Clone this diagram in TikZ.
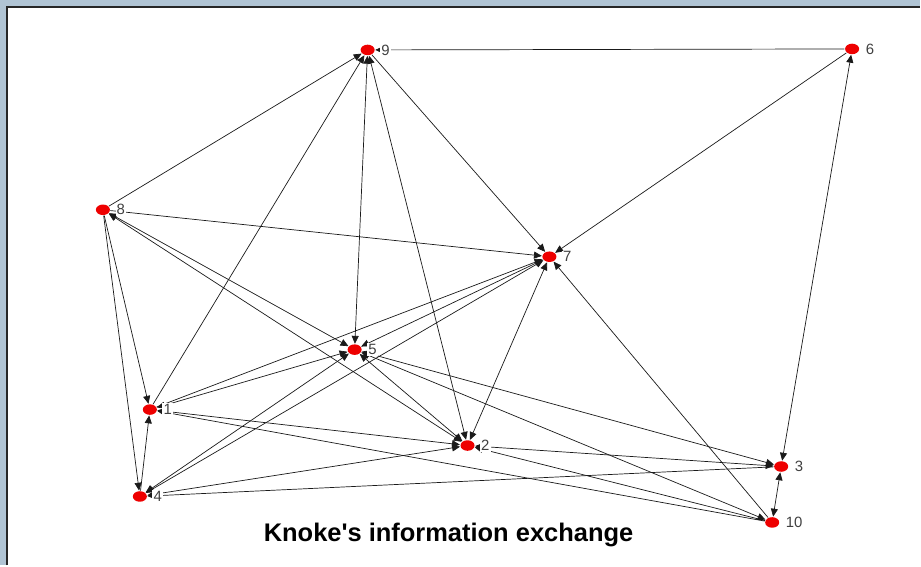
\documentclass[tikz,border=0pt]{standalone}
\usepackage{fontspec}
\setmainfont{Liberation Sans}
\usetikzlibrary{arrows.meta, shapes.geometric, backgrounds}
\definecolor{cframe}{HTML}{B0C4D4}
\definecolor{cnode}{HTML}{EE0000}
\definecolor{clabel}{HTML}{404040}
\definecolor{cline}{HTML}{1A1A1A}
\tikzset{
  every picture/.style={line width=0.7pt},
  actor/.style={ellipse, fill=cnode, inner sep=0pt, minimum width=8pt, minimum height=6pt},
  tag/.style={font=\fontsize{8.5}{9}\selectfont, text=clabel, fill=white, inner sep=0.6pt, label distance=2.5pt},
  tie/.style={-{Triangle[length=4.5pt, width=4pt]}, draw=cline},
  mutual/.style={{Triangle[length=4.5pt, width=4pt]}-{Triangle[length=4.5pt, width=4pt]}, draw=cline},
  title/.style={font=\bfseries\fontsize{14.5}{16}\selectfont},
}

\begin{document}
\begin{tikzpicture}[x=0.02cm, y=-0.02cm]
  \node[actor, label={[tag]right:9}] (v9) at (368,50) {};
  \node[actor, label={[tag]right:6}] (v6) at (853,49) {};
  \node[actor, label={[tag]right:8}] (v8) at (103,210) {};
  \node[actor, label={[tag]right:7}] (v7) at (550,257) {};
  \node[actor, label={[tag]right:5}] (v5) at (355,350) {};
  \node[actor, label={[tag]right:1}] (v1) at (150,410) {};
  \node[actor, label={[tag]right:2}] (v2) at (468,446) {};
  \node[actor, label={[tag]right:3}] (v3) at (782,467) {};
  \node[actor, label={[tag]right:4}] (v4) at (140,497) {};
  \node[actor, label={[tag]right:10}] (v10) at (773,523) {};
  \node[title] (caption) at (449,536) {Knoke\textquotesingle s information exchange};
  \begin{scope}[on background layer]
    \fill[cframe] (0,0) rectangle (921,566);
    \fill[white] (7,7) rectangle (921,566);
    \draw[black!85, line width=1.1pt] (7,566) -- (7,7) -- (921,7);
    \foreach \a/\b in {1/2, 1/5, 2/3, 2/4, 2/5, 2/7, 2/8, 2/9, 3/5, 3/6, 3/10,
                       4/5, 4/7, 5/7, 5/8, 5/9, 5/10}
      \draw[mutual] (v\a) -- (v\b);
    \foreach \a/\b in {1/7, 1/9, 3/4, 4/1, 6/7, 6/9, 8/1, 8/4, 8/7, 8/9, 9/7,
                       10/1, 10/2, 10/7}
      \draw[tie] (v\a) -- (v\b);
  \end{scope}
  \useasboundingbox (0,0) rectangle (921,566);
\end{tikzpicture}
\end{document}
